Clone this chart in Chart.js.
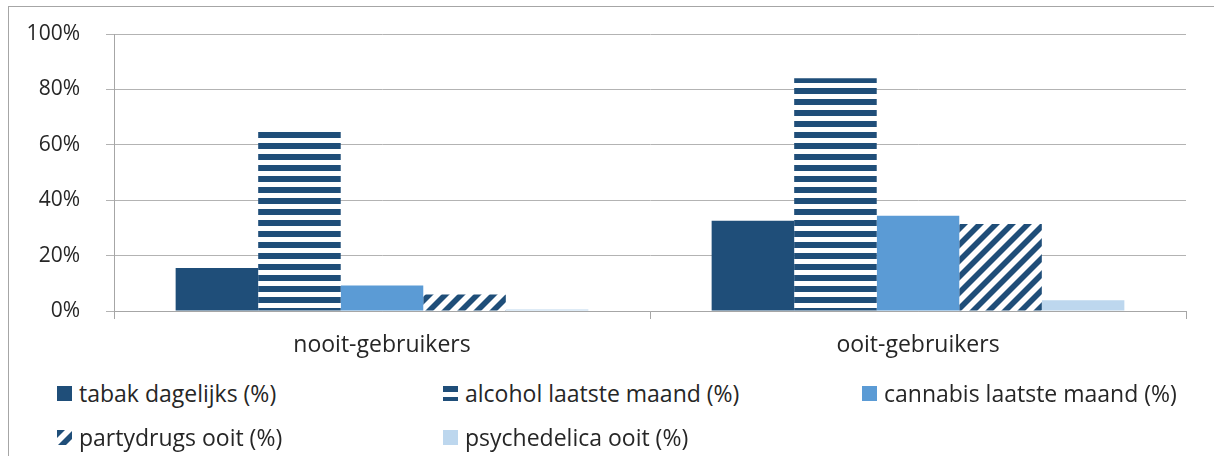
<!DOCTYPE html>
<html>
<head>
<meta charset="utf-8">
<script src="https://cdn.jsdelivr.net/npm/chart.js@4/dist/chart.umd.min.js"></script>
<style>
  html, body { margin: 0; padding: 0; background: #fff; }
  body { width: 1214px; height: 456px; position: relative; overflow: hidden; font-family: 'Open Sans', sans-serif; }
  #frame { position: absolute; left: 8px; top: 6px; width: 1300px; height: 500px; border: 1px solid #a6a6a6; box-sizing: border-box; }
  #chart-wrap { position: absolute; left: 0; top: 0; width: 1214px; height: 370px; }
  #legend { position: absolute; left: 57px; top: 379px; display: grid; grid-template-columns: 386px 419px auto; grid-auto-rows: 44px; color: #262626; font-size: 23px; }
  #legend .item { display: flex; align-items: center; height: 28px; }
  #legend canvas { margin-right: 7px; }
</style>
</head>
<body>
<div id="frame"></div>
<div id="chart-wrap"><canvas id="myChart" width="1214" height="370"></canvas></div>
<div id="legend"></div>
<script>
// Values
const categories = ['nooit-gebruikers', 'ooit-gebruikers'];
const tabak = [15.5, 32.6];
const alcohol = [65.2, 84.0];
const cannabis = [9.2, 34.4];
const partydrugs = [6.0, 31.4];
const psychedelica = [0.5, 3.9];
const yTicks = [0, 20, 40, 60, 80, 100];

const seriesNames = [
  'tabak dagelijks (%)',
  'alcohol laatste maand (%)',
  'cannabis laatste maand (%)',
  'partydrugs ooit (%)',
  'psychedelica ooit (%)'
];

const darkBlue = '#1f4e79';

// Horizontal stripes pattern
function stripePattern(ctx) {
  const c = document.createElement('canvas');
  c.width = 11; c.height = 11;
  const g = c.getContext('2d');
  g.fillStyle = '#fff';
  g.fillRect(0, 0, 11, 11);
  g.fillStyle = darkBlue;
  g.fillRect(0, 0, 11, 6);
  return ctx.createPattern(c, 'repeat');
}

// Wide upward diagonal pattern
function diagPattern(ctx) {
  const s = 16;
  const c = document.createElement('canvas');
  c.width = s; c.height = s;
  const g = c.getContext('2d');
  g.fillStyle = '#fff';
  g.fillRect(0, 0, s, s);
  g.fillStyle = darkBlue;
  for (let k = -1; k <= 1; k++) {
    const o = k * s;
    g.beginPath();
    g.moveTo(o, s);
    g.lineTo(o + s / 2, s);
    g.lineTo(o + s + s / 2, 0);
    g.lineTo(o + s, 0);
    g.closePath();
    g.fill();
  }
  return ctx.createPattern(c, 'repeat');
}

const ctx = document.getElementById('myChart').getContext('2d');

const fills = [darkBlue, stripePattern(ctx), '#5b9bd5', diagPattern(ctx), '#bdd7ee'];
const seriesData = [tabak, alcohol, cannabis, partydrugs, psychedelica];

const chart = new Chart(ctx, {
  type: 'bar',
  data: {
    labels: categories,
    datasets: seriesData.map((d, i) => ({
      label: seriesNames[i],
      data: d,
      backgroundColor: fills[i],
      borderWidth: 0,
      barPercentage: 1,
      categoryPercentage: 0.77
    }))
  },
  options: {
    responsive: false,
    animation: false,
    layout: { padding: { top: 34, right: 28, left: 0, bottom: 0 } },
    plugins: {
      legend: { display: false },
      tooltip: { enabled: false }
    },
    scales: {
      x: {
        afterFit: scale => {
          scale.height = 59;
          scale.paddingLeft = 0;
          scale.paddingRight = 0;
        },
        grid: { drawOnChartArea: false, drawTicks: true, tickLength: 8, color: '#a6a6a6', offset: true },
        border: { color: '#a6a6a6' },
        ticks: { color: '#262626', font: { family: 'Open Sans', size: 23 }, padding: 13 }
      },
      y: {
        min: 0,
        max: 100,
        afterFit: scale => {
          scale.width = 114;
          scale.paddingTop = 0;
          scale.paddingBottom = 0;
        },
        afterBuildTicks: scale => { scale.ticks = yTicks.map(v => ({ value: v })); },
        grid: { color: '#b3b3b3', tickLength: 8, drawTicks: true },
        border: { color: '#a6a6a6' },
        ticks: {
          color: '#262626',
          font: { family: 'Open Sans', size: 21 },
          padding: 26,
          callback: v => v + '%'
        }
      }
    }
  }
});

// Legend laid out in columns like the reference
const legendEl = document.getElementById('legend');
seriesNames.forEach((name, i) => {
  const item = document.createElement('div');
  item.className = 'item';
  const sw = document.createElement('canvas');
  sw.width = 15; sw.height = 15;
  const sctx = sw.getContext('2d');
  let f = fills[i];
  if (i === 1) f = stripePattern(sctx);
  if (i === 3) f = diagPattern(sctx);
  sctx.fillStyle = f;
  sctx.fillRect(0, 0, 15, 15);
  const label = document.createElement('span');
  label.textContent = name;
  item.appendChild(sw);
  item.appendChild(label);
  legendEl.appendChild(item);
});
</script>
</body>
</html>
